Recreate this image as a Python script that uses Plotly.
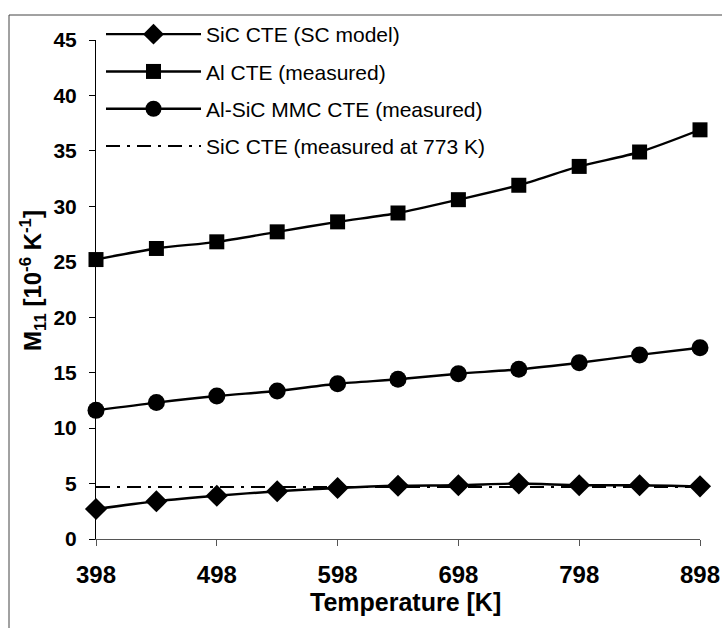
import plotly.graph_objects as go

# ---- data ----
TEMPS = [398, 448, 498, 548, 598, 648, 698, 748, 798, 848, 898]
SIC_MODEL = [2.7, 3.4, 3.9, 4.3, 4.6, 4.8, 4.85, 5.0, 4.85, 4.85, 4.75]
AL_MEASURED = [25.2, 26.2, 26.8, 27.7, 28.6, 29.4, 30.6, 31.9, 33.6, 34.9, 36.9]
MMC_MEASURED = [11.6, 12.3, 12.9, 13.35, 14.0, 14.4, 14.9, 15.3, 15.9, 16.6, 17.25]
SIC_773_X = [398, 898]
SIC_773_Y = [4.7, 4.7]

NAMES = ["SiC CTE (SC model)", "Al CTE (measured)",
         "Al-SiC MMC CTE (measured)", "SiC CTE (measured at 773 K)"]
X_TICKS = [398, 498, 598, 698, 798, 898]
Y_TICKS = [0, 5, 10, 15, 20, 25, 30, 35, 40, 45]

W, H = 722, 628
ML, MR, MT, MB = 96, 22, 40, 89
PW, PH = W - ML - MR, H - MT - MB


def px(xp):
    return (xp - ML) / PW


def py(yp):
    return (H - MB - yp) / PH


FONT = "Liberation Sans, Arial, sans-serif"

fig = go.Figure()
common = dict(mode="lines+markers", line=dict(color="black", width=2.4, shape="spline", smoothing=0.8),
              cliponaxis=False)
fig.add_trace(go.Scatter(x=TEMPS, y=SIC_MODEL, name=NAMES[0], legendgroup="a",
                         marker=dict(symbol="diamond", size=17, color="black"), **common))
fig.add_trace(go.Scatter(x=TEMPS, y=AL_MEASURED, name=NAMES[1], legendgroup="b",
                         marker=dict(symbol="square", size=15, color="black"), **common))
fig.add_trace(go.Scatter(x=TEMPS, y=MMC_MEASURED, name=NAMES[2], legendgroup="c",
                         marker=dict(symbol="circle", size=17, color="black"), **common))
fig.add_trace(go.Scatter(x=SIC_773_X, y=SIC_773_Y, name=NAMES[3], legendgroup="d",
                         mode="lines", cliponaxis=False,
                         line=dict(color="black", width=2, dash="14px,7px,3px,7px")))

fig.update_layout(
    width=W, height=H,
    margin=dict(l=ML, r=MR, t=MT, b=MB, autoexpand=False),
    paper_bgcolor="white", plot_bgcolor="white",
    font=dict(family=FONT, color="black"),
    showlegend=True,
    legend=dict(x=px(101), y=py(14), xanchor="left", yanchor="top",
                bgcolor="rgba(0,0,0,0)", font=dict(size=21, family=FONT),
                itemwidth=95, tracegroupgap=7, traceorder="grouped"),
    xaxis=dict(range=[398, 898], tickmode="array", tickvals=X_TICKS,
               ticktext=[str(v) for v in X_TICKS],
               showgrid=False, zeroline=False, showline=True, linecolor="#555", linewidth=1,
               ticks="outside", ticklen=6, tickcolor="#555", tickwidth=1,
               tickfont=dict(size=24, family=FONT, weight="bold"), ticklabelstandoff=8),
    yaxis=dict(range=[0, 45], tickmode="array", tickvals=Y_TICKS,
               showgrid=False, zeroline=False, showline=True, linecolor="black", linewidth=1,
               ticks="outside", ticklen=6, tickcolor="black", tickwidth=1,
               tickfont=dict(size=21, family=FONT, weight="bold"), ticklabelstandoff=8),
    annotations=[
        dict(text="M<sub>11</sub> [10<sup>-6</sup> K<sup>-1</sup>]", textangle=-90,
             xref="paper", yref="paper", x=px(33), y=py(281), xanchor="center", yanchor="middle",
             showarrow=False, font=dict(size=24, family=FONT, weight="bold")),
        dict(text="Temperature [K]", xref="paper", yref="paper", x=px(405), y=py(602),
             xanchor="center", yanchor="middle", showarrow=False,
             font=dict(size=25, family=FONT, weight="bold")),
    ],
    shapes=[
        dict(type="line", xref="paper", yref="paper", x0=px(9), x1=px(W), y0=py(15), y1=py(15),
             line=dict(color="#444", width=1)),
        dict(type="line", xref="paper", yref="paper", x0=px(9), x1=px(9), y0=py(15), y1=py(H),
             line=dict(color="#444", width=1)),
    ],
)

fig.write_html("out.html", config={"displayModeBar": False},
               post_script="document.body.style.margin='0';document.body.style.padding='0';")
